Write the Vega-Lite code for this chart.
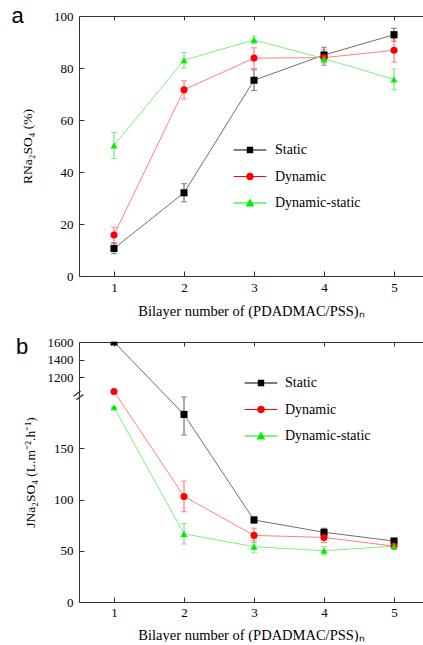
{
  "$schema": "https://vega.github.io/schema/vega-lite/v6.json",
  "background": "white",
  "padding": {"left": 11, "top": 5, "right": 0, "bottom": 0},
  "spacing": 18,
  "config": {
    "view": {"stroke": null},
    "axis": {"labelFont": "Liberation Serif", "titleFont": "Liberation Serif", "labelFontSize": 13, "titleFontSize": 13.5, "titleFontWeight": "normal", "labelColor": "#000", "titleColor": "#000", "domainColor": "#333", "tickColor": "#333", "grid": false, "labelOverlap": false},
    "axisX": {"titleFontSize": 14.5},
    "axisY": {"labelOverlap": false},
    "legend": {"labelFont": "Liberation Serif", "labelFontSize": 14, "labelColor": "#000"},
    "title": {"font": "Liberation Sans", "fontSize": 22, "fontWeight": "normal", "color": "#000"}
  },
  "datasets": {
    "ra": [
      {"n": 1, "v": 10.6, "e": 2, "s": "Static"},
      {"n": 2, "v": 32, "e": 3.5, "s": "Static"},
      {"n": 3, "v": 75.3, "e": 4, "s": "Static"},
      {"n": 4, "v": 85, "e": 3, "s": "Static"},
      {"n": 5, "v": 92.8, "e": 2.5, "s": "Static"},
      {"n": 1, "v": 15.8, "e": 3, "s": "Dynamic"},
      {"n": 2, "v": 71.6, "e": 3.5, "s": "Dynamic"},
      {"n": 3, "v": 83.8, "e": 4, "s": "Dynamic"},
      {"n": 4, "v": 84, "e": 3, "s": "Dynamic"},
      {"n": 5, "v": 86.8, "e": 4.5, "s": "Dynamic"},
      {"n": 1, "v": 50.2, "e": 5, "s": "Dynamic-static"},
      {"n": 2, "v": 83, "e": 3, "s": "Dynamic-static"},
      {"n": 3, "v": 90.8, "e": 1.5, "s": "Dynamic-static"},
      {"n": 4, "v": 83.6, "e": 2.5, "s": "Dynamic-static"},
      {"n": 5, "v": 75.6, "e": 4, "s": "Dynamic-static"}
    ],
    "jb": [
      {"n": 1, "v": 1600, "e": 0, "s": "Static"},
      {"n": 2, "v": 183, "e": 20, "s": "Static"},
      {"n": 3, "v": 80, "e": 3, "s": "Static"},
      {"n": 4, "v": 68, "e": 4, "s": "Static"},
      {"n": 5, "v": 59.5, "e": 2, "s": "Static"},
      {"n": 1, "v": 1040, "e": 0, "s": "Dynamic"},
      {"n": 2, "v": 103, "e": 15, "s": "Dynamic"},
      {"n": 3, "v": 65, "e": 7, "s": "Dynamic"},
      {"n": 4, "v": 63, "e": 5, "s": "Dynamic"},
      {"n": 5, "v": 54.5, "e": 2, "s": "Dynamic"},
      {"n": 1, "v": 190, "e": 0, "s": "Dynamic-static"},
      {"n": 2, "v": 66.5, "e": 10, "s": "Dynamic-static"},
      {"n": 3, "v": 54, "e": 6, "s": "Dynamic-static"},
      {"n": 4, "v": 50, "e": 4, "s": "Dynamic-static"},
      {"n": 5, "v": 54.5, "e": 2, "s": "Dynamic-static"}
    ],
    "brk": [{"n": 0.5, "v": 600, "t": "="}]
  },
  "resolve": {"scale": {"color": "independent", "shape": "independent", "fill": "independent", "x": "independent", "y": "independent"}, "legend": {"color": "independent", "shape": "independent", "fill": "independent"}},
  "vconcat": [
    {
      "width": 344,
      "height": 260,
      "title": {"text": "a", "anchor": "start", "frame": "bounds", "baseline": "top", "offset": -18, "dx": -9},
      "data": {"name": "ra"},
      "resolve": {"scale": {"color": "independent", "shape": "independent", "fill": "independent"}, "legend": {"shape": "independent", "fill": "independent"}, "axis": {"x": "independent"}},
      "layer": [
        {
          "mark": {"type": "line", "strokeWidth": 1},
          "encoding": {
            "x": {"field": "n", "type": "quantitative", "scale": {"domain": [0.5, 5.414], "nice": false, "zero": false},
                  "axis": {"orient": "bottom", "values": [1, 2, 3, 4, 5], "format": "d", "tickSize": -5, "labelPadding": 10, "title": "Bilayer number of (PDADMAC/PSS)ₙ", "titlePadding": 10}},
            "y": {"field": "v", "type": "quantitative", "scale": {"domain": [0, 100], "nice": false}, "title": "RNa₂SO₄ (%)",
                  "axis": {"values": [0, 10, 20, 30, 40, 50, 60, 70, 80, 90, 100], "labelExpr": "datum.value % 20 === 0 ? datum.label : ''", "tickSize": {"condition": {"test": "datum.value % 20 === 0", "value": -5}, "value": -3}, "labelPadding": 11, "titlePadding": 19, "labelOverlap": false}},
            "color": {"field": "s", "type": "nominal", "scale": {"domain": ["Static", "Dynamic", "Dynamic-static"], "range": ["#707070", "#ff8080", "#80ee80"]}, "legend": null}
          }
        },
        {
          "mark": {"type": "errorbar", "ticks": {"size": 6}, "thickness": 1},
          "encoding": {
            "x": {"field": "n", "type": "quantitative", "axis": null},
            "y": {"field": "v", "type": "quantitative", "title": "RNa₂SO₄ (%)"},
            "yError": {"field": "e"},
            "color": {"field": "s", "type": "nominal", "scale": {"domain": ["Static", "Dynamic", "Dynamic-static"], "range": ["#555555", "#ff6060", "#60e060"]}, "legend": null}
          }
        },
        {
          "mark": {"type": "point", "filled": true, "size": 50, "opacity": 1},
          "encoding": {
            "x": {"field": "n", "type": "quantitative", "axis": {"orient": "top", "values": [1, 2, 3, 4, 5], "labels": false, "tickSize": -4, "title": null}},
            "y": {"field": "v", "type": "quantitative", "title": "RNa₂SO₄ (%)"},
            "color": {"field": "s", "type": "nominal", "scale": {"domain": ["Static", "Dynamic", "Dynamic-static"], "range": ["#000000", "#ff0000", "#00ee00"]}, "legend": null},
            "shape": {"field": "s", "type": "nominal", "scale": {"domain": ["Static", "Dynamic", "Dynamic-static"], "range": ["square", "circle", "triangle-up"]}, "legend": null}
          }
        },
        {
          "transform": [{"filter": "datum.n > 100"}],
          "mark": {"type": "point", "filled": true, "strokeWidth": 0, "opacity": 1},
          "encoding": {
            "x": {"field": "n", "type": "quantitative", "axis": null},
            "y": {"field": "v", "type": "quantitative", "title": "RNa₂SO₄ (%)"},
            "fill": {"field": "s", "type": "nominal", "scale": {"domain": ["Static", "Dynamic", "Dynamic-static"], "range": ["#000000", "#ff0000", "#00ee00"]},
                     "legend": {"title": null, "orient": "none", "legendX": 164, "legendY": 127, "rowPadding": 12.5, "labelOffset": 18, "symbolSize": 64, "symbolStrokeWidth": 0, "labelFont": "Liberation Serif", "labelFontSize": 14}},
            "shape": {"field": "s", "type": "nominal", "scale": {"domain": ["Static", "Dynamic", "Dynamic-static"], "range": ["M-4.1,-0.11H4.1V0.11H-4.1Z M-0.8,-0.8H0.8V0.8H-0.8Z", "M-4.1,-0.11H4.1V0.11H-4.1Z M0.95,0A0.95,0.95,0,1,1,-0.95,0A0.95,0.95,0,1,1,0.95,0Z", "M-4.1,-0.11H4.1V0.11H-4.1Z M0,-1.1L1.1,0.85H-1.1Z"]},
                     "legend": {"title": null, "orient": "none", "legendX": 164, "legendY": 127, "rowPadding": 12.5, "labelOffset": 18, "symbolSize": 64, "symbolStrokeWidth": 0, "labelFont": "Liberation Serif", "labelFontSize": 14}}
          }
        }
      ]
    },
    {
      "width": 344,
      "height": 260,
      "title": {"text": "b", "anchor": "start", "frame": "bounds", "baseline": "top", "offset": -23, "dx": -7},
      "resolve": {"scale": {"color": "independent", "shape": "independent", "fill": "independent"}, "legend": {"shape": "independent", "fill": "independent"}, "axis": {"x": "independent"}},
      "layer": [
        {
          "data": {"name": "jb"},
          "mark": {"type": "line", "strokeWidth": 1},
          "encoding": {
            "x": {"field": "n", "type": "quantitative", "scale": {"domain": [0.5, 5.414], "nice": false, "zero": false},
                  "axis": {"orient": "bottom", "values": [1, 2, 3, 4, 5], "format": "d", "tickSize": -5, "labelPadding": 9, "title": "Bilayer number of (PDADMAC/PSS)ₙ", "titlePadding": 9}},
            "y": {"field": "v", "type": "quantitative", "scale": {"domain": [0, 200, 1000, 1600], "range": [260, 55, 53, 0], "nice": false, "zero": false}, "title": "JNa₂SO₄ (L.m⁻².h⁻¹)",
                  "axis": {"values": [0, 25, 50, 75, 100, 125, 150, 175, 1200, 1300, 1400, 1500, 1600], "labelExpr": "(datum.value % 50 === 0 && datum.value <= 150) || datum.value % 200 === 0 ? datum.label : ''", "tickSize": {"condition": {"test": "(datum.value % 50 === 0 && datum.value <= 150) || datum.value % 200 === 0", "value": -5}, "value": -3}, "labelPadding": 11, "format": "d", "titlePadding": 10, "labelOverlap": false}},
            "color": {"field": "s", "type": "nominal", "scale": {"domain": ["Static", "Dynamic", "Dynamic-static"], "range": ["#707070", "#ff8080", "#80ee80"]}, "legend": null}
          }
        },
        {
          "data": {"name": "jb"},
          "mark": {"type": "errorbar", "ticks": {"size": 6}, "thickness": 1},
          "encoding": {
            "x": {"field": "n", "type": "quantitative", "axis": null},
            "y": {"field": "v", "type": "quantitative", "title": "JNa₂SO₄ (L.m⁻².h⁻¹)"},
            "yError": {"field": "e"},
            "color": {"field": "s", "type": "nominal", "scale": {"domain": ["Static", "Dynamic", "Dynamic-static"], "range": ["#555555", "#ff6060", "#60e060"]}, "legend": null}
          }
        },
        {
          "data": {"name": "jb"},
          "mark": {"type": "point", "filled": true, "size": 50, "opacity": 1, "clip": true},
          "encoding": {
            "x": {"field": "n", "type": "quantitative", "axis": {"orient": "top", "values": [1, 2, 3, 4, 5], "labels": false, "tickSize": -4, "title": null}},
            "y": {"field": "v", "type": "quantitative", "title": "JNa₂SO₄ (L.m⁻².h⁻¹)"},
            "color": {"field": "s", "type": "nominal", "scale": {"domain": ["Static", "Dynamic", "Dynamic-static"], "range": ["#000000", "#ff0000", "#00ee00"]}, "legend": null},
            "shape": {"field": "s", "type": "nominal", "scale": {"domain": ["Static", "Dynamic", "Dynamic-static"], "range": ["square", "circle", "triangle-up"]}, "legend": null}
          }
        },
        {
          "data": {"name": "jb"},
          "transform": [{"filter": "datum.n > 100"}],
          "mark": {"type": "point", "filled": true, "strokeWidth": 0, "opacity": 1},
          "encoding": {
            "x": {"field": "n", "type": "quantitative", "axis": null},
            "y": {"field": "v", "type": "quantitative", "title": "JNa₂SO₄ (L.m⁻².h⁻¹)"},
            "fill": {"field": "s", "type": "nominal", "scale": {"domain": ["Static", "Dynamic", "Dynamic-static"], "range": ["#000000", "#ff0000", "#00ee00"]},
                     "legend": {"title": null, "orient": "none", "legendX": 175, "legendY": 34, "rowPadding": 12.5, "labelOffset": 17, "symbolSize": 64, "symbolStrokeWidth": 0, "labelFont": "Liberation Serif", "labelFontSize": 14}},
            "shape": {"field": "s", "type": "nominal", "scale": {"domain": ["Static", "Dynamic", "Dynamic-static"], "range": ["M-4.1,-0.11H4.1V0.11H-4.1Z M-0.8,-0.8H0.8V0.8H-0.8Z", "M-4.1,-0.11H4.1V0.11H-4.1Z M0.95,0A0.95,0.95,0,1,1,-0.95,0A0.95,0.95,0,1,1,0.95,0Z", "M-4.1,-0.11H4.1V0.11H-4.1Z M0,-1.1L1.1,0.85H-1.1Z"]},
                     "legend": {"title": null, "orient": "none", "legendX": 175, "legendY": 34, "rowPadding": 12.5, "labelOffset": 17, "symbolSize": 64, "symbolStrokeWidth": 0, "labelFont": "Liberation Serif", "labelFontSize": 14}}
          }
        },
        {
          "data": {"name": "brk"},
          "mark": {"type": "text", "angle": -37, "fontSize": 18, "color": "#333", "font": "Liberation Sans"},
          "encoding": {
            "x": {"field": "n", "type": "quantitative", "axis": null},
            "y": {"field": "v", "type": "quantitative", "title": "JNa₂SO₄ (L.m⁻².h⁻¹)"},
            "text": {"field": "t"}
          }
        }
      ]
    }
  ]
}
